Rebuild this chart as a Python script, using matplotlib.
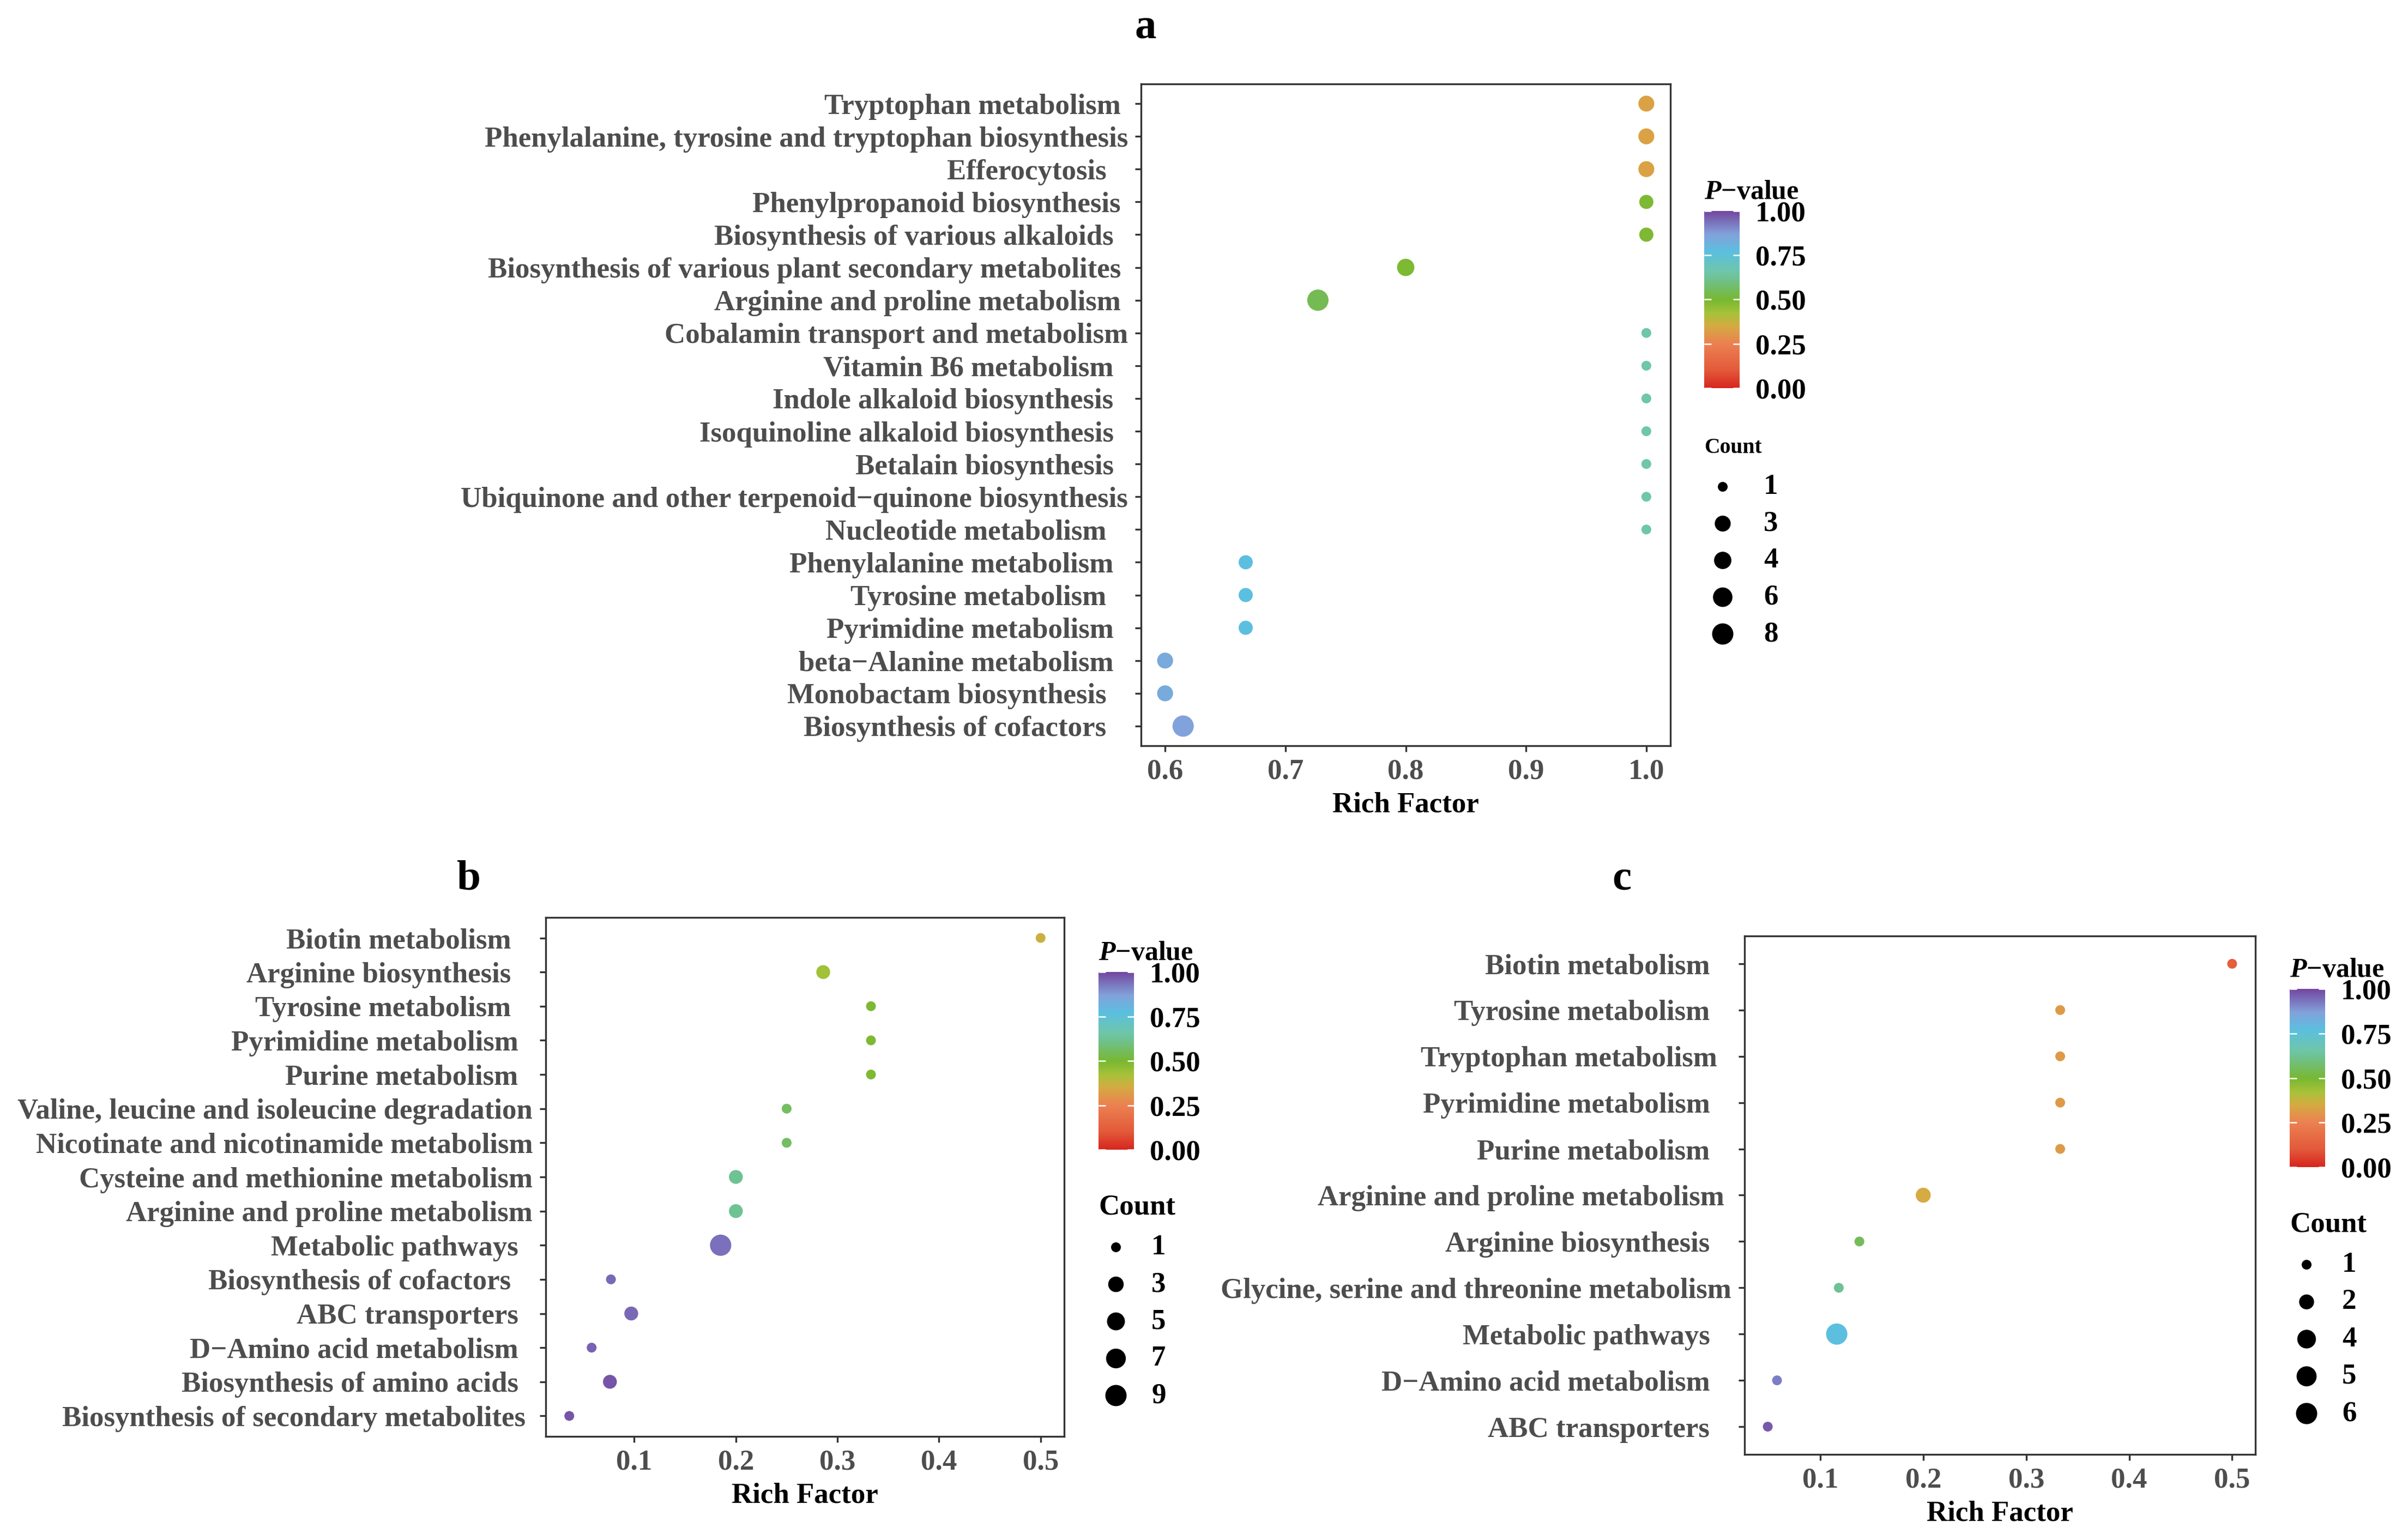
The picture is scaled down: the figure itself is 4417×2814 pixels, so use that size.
import numpy as np
import matplotlib
matplotlib.use("Agg")
import matplotlib.pyplot as plt
from matplotlib.colors import LinearSegmentedColormap

plt.rcParams['font.family'] = ['Liberation Serif', 'DejaVu Serif']
plt.rcParams['font.weight'] = 'bold'
plt.rcParams['axes.labelweight'] = 'bold'
plt.rcParams['mathtext.fontset'] = 'custom'
plt.rcParams['mathtext.it'] = 'Liberation Serif:style=italic:weight=bold'
plt.rcParams['mathtext.rm'] = 'Liberation Serif:weight=bold'

# ---- panel a ----
a_terms = ["Tryptophan metabolism ", "Phenylalanine, tyrosine and tryptophan biosynthesis",
           "Efferocytosis   ", "Phenylpropanoid biosynthesis ", "Biosynthesis of various alkaloids  ",
           "Biosynthesis of various plant secondary metabolites ", "Arginine and proline metabolism ",
           "Cobalamin transport and metabolism", "Vitamin B6 metabolism  ", "Indole alkaloid biosynthesis  ",
           "Isoquinoline alkaloid biosynthesis  ", "Betalain biosynthesis  ",
           "Ubiquinone and other terpenoid\u2212quinone biosynthesis", "Nucleotide metabolism   ",
           "Phenylalanine metabolism  ", "Tyrosine metabolism   ", "Pyrimidine metabolism  ",
           "beta\u2212Alanine metabolism  ", "Monobactam biosynthesis   ", "Biosynthesis of cofactors   "]
a_rich = [1.0, 1.0, 1.0, 1.0, 1.0, 0.8, 0.727, 1.0, 1.0, 1.0, 1.0, 1.0, 1.0, 1.0,
          0.667, 0.667, 0.667, 0.6, 0.6, 0.615]
a_count = [3, 3, 3, 2, 2, 4, 8, 1, 1, 1, 1, 1, 1, 1, 2, 2, 2, 3, 3, 8]
a_pval = [0.33, 0.33, 0.33, 0.49, 0.49, 0.49, 0.54, 0.66, 0.66, 0.66, 0.66, 0.66, 0.66, 0.66,
          0.77, 0.77, 0.77, 0.84, 0.84, 0.87]
a_breaks = [1, 3, 4, 6, 8]

# ---- panel b ----
b_terms = ["Biotin metabolism   ", "Arginine biosynthesis   ", "Tyrosine metabolism   ",
           "Pyrimidine metabolism  ", "Purine metabolism  ", "Valine, leucine and isoleucine degradation",
           "Nicotinate and nicotinamide metabolism", "Cysteine and methionine metabolism",
           "Arginine and proline metabolism", "Metabolic pathways  ", "Biosynthesis of cofactors   ",
           "ABC transporters  ", "D\u2212Amino acid metabolism  ", "Biosynthesis of amino acids  ",
           "Biosynthesis of secondary metabolites "]
b_rich = [0.5, 0.286, 0.333, 0.333, 0.333, 0.25, 0.25, 0.2, 0.2, 0.185, 0.077, 0.097, 0.058, 0.076, 0.036]
b_count = [1, 2, 1, 1, 1, 1, 1, 2, 2, 9, 1, 2, 1, 2, 1]
b_pval = [0.37, 0.43, 0.49, 0.49, 0.49, 0.56, 0.56, 0.62, 0.62, 0.94, 0.95, 0.95, 0.96, 0.98, 0.98]
b_breaks = [1, 3, 5, 7, 9]

# ---- panel c ----
c_terms = ["Biotin metabolism   ", "Tyrosine metabolism   ", "Tryptophan metabolism  ",
           "Pyrimidine metabolism   ", "Purine metabolism   ", "Arginine and proline metabolism ",
           "Arginine biosynthesis   ", "Glycine, serine and threonine metabolism",
           "Metabolic pathways   ", "D\u2212Amino acid metabolism   ", "ABC transporters   "]
c_rich = [0.5, 0.333, 0.333, 0.333, 0.333, 0.2, 0.138, 0.118, 0.116, 0.058, 0.049]
c_count = [1, 1, 1, 1, 1, 2, 1, 1, 6, 1, 1]
c_pval = [0.12, 0.31, 0.31, 0.31, 0.31, 0.35, 0.55, 0.62, 0.77, 0.92, 0.97]
c_breaks = [1, 2, 4, 5, 6]

pv_ticks = [0.0, 0.25, 0.5, 0.75, 1.0]
pv_labels = ["0.00", "0.25", "0.50", "0.75", "1.00"]

cmap = LinearSegmentedColormap.from_list("pv", [
    (0.00, "#d7261e"), (0.10, "#e35a3a"), (0.25, "#ec8152"), (0.35, "#d5ab42"),
    (0.42, "#a8c23a"), (0.50, "#78b832"), (0.62, "#6fc293"), (0.66, "#6fc6ab"),
    (0.77, "#5bc0e0"), (0.87, "#82a2db"), (1.00, "#7447a0")])

W, H = 4417, 2814
DPI = 300
fig = plt.figure(figsize=(W / DPI, H / DPI), dpi=DPI)

lay = fig.add_axes([0, 0, 1, 1])
lay.axis('off')
lay.set_xlim(0, W)
lay.set_ylim(H, 0)

GREY = '#4d4d4d'
FS = 12.7


def px_axes(l, t, r, b):
    return fig.add_axes([l / W, 1 - b / H, (r - l) / W, (b - t) / H])


def dot_area(c, cmin, cmax):
    d_px = 18 + 21 * np.sqrt((np.asarray(c, float) - cmin) / (cmax - cmin))
    return (d_px * 72 / DPI) ** 2


def panel(box, cbox, terms, rich, count, pval, breaks, xticks, count_fs, leg):
    ax = px_axes(*box)
    n = len(terms)
    y = np.arange(n)[::-1]
    cmin, cmax = min(breaks), max(breaks)
    ax.scatter(rich, y, s=dot_area(count, cmin, cmax), c=pval, cmap=cmap,
               vmin=0, vmax=1, edgecolors='none', zorder=3)
    lo, hi = min(rich), max(rich)
    pad = (hi - lo) * 0.05
    ax.set_xlim(lo - pad, hi + pad)
    ax.set_ylim(-0.6, n - 0.4)
    ax.set_yticks(y)
    ax.set_yticklabels(terms)
    ax.set_xticks(xticks)
    ax.set_xticklabels([f"{t:.1f}" for t in xticks])
    for s in ax.spines.values():
        s.set_color('#333333')
        s.set_linewidth(0.8)
    ax.tick_params(length=2.75, width=0.8, color='#333333', labelcolor=GREY,
                   labelsize=FS, pad=3)
    ax.set_xlabel("Rich Factor", fontsize=FS, color='black', fontweight='bold', labelpad=3)

    # colour bar
    cax = px_axes(*cbox)
    cax.imshow(np.linspace(0, 1, 256)[:, None], aspect='auto', cmap=cmap,
               origin='lower', extent=[0, 1, 0, 1])
    cax.set_xticks([])
    cax.set_yticks(pv_ticks)
    cax.set_yticklabels(pv_labels)
    cax.yaxis.tick_right()
    cax.tick_params(axis='y', direction='in', left=True, right=True, length=3,
                    width=0.6, color='white', labelcolor='black', labelsize=FS, pad=7)
    for s in cax.spines.values():
        s.set_visible(False)
    lay.text(cbox[0], cbox[1] - 22, "$\\mathit{P}$\u2212value",
             fontsize=12, ha='left', va='baseline', color='black')

    # size legend
    tx, ty, dx, nx, y0, dy = leg
    lay.text(tx, ty, "Count", fontsize=count_fs, ha='left', va='center', color='black')
    ly = y0 + dy * np.arange(len(breaks))
    lay.scatter(np.full(len(breaks), dx), ly, s=dot_area(breaks, cmin, cmax),
                color='black', edgecolors='none')
    for yy, bk in zip(ly, breaks):
        lay.text(nx, yy, str(bk), fontsize=FS, ha='left', va='center', color='black')
    return ax


panel((2093, 154, 3064, 1368), (3126, 387, 3191, 712), a_terms, a_rich, a_count, a_pval,
      a_breaks, [0.6, 0.7, 0.8, 0.9, 1.0], 9.5, (3126, 821, 3160, 3235, 893, 67.5))
panel((1001, 1683, 1952, 2635), (2015, 1783, 2080, 2109), b_terms, b_rich, b_count, b_pval,
      b_breaks, [0.1, 0.2, 0.3, 0.4, 0.5], FS, (2015, 2214, 2047, 2112, 2288, 68))
panel((3200, 1717, 4137, 2668), (4200, 1814, 4265, 2141), c_terms, c_rich, c_count, c_pval,
      c_breaks, [0.1, 0.2, 0.3, 0.4, 0.5], FS, (4200, 2246, 4231, 4296, 2320, 68.25))

for lab, (x, y) in zip(["a", "b", "c"], [(2101, 51), (860, 1613), (2975, 1613)]):
    lay.text(x, y, lab, fontsize=19, ha='center', va='center', color='black')

fig.savefig("out.png", dpi=DPI)
